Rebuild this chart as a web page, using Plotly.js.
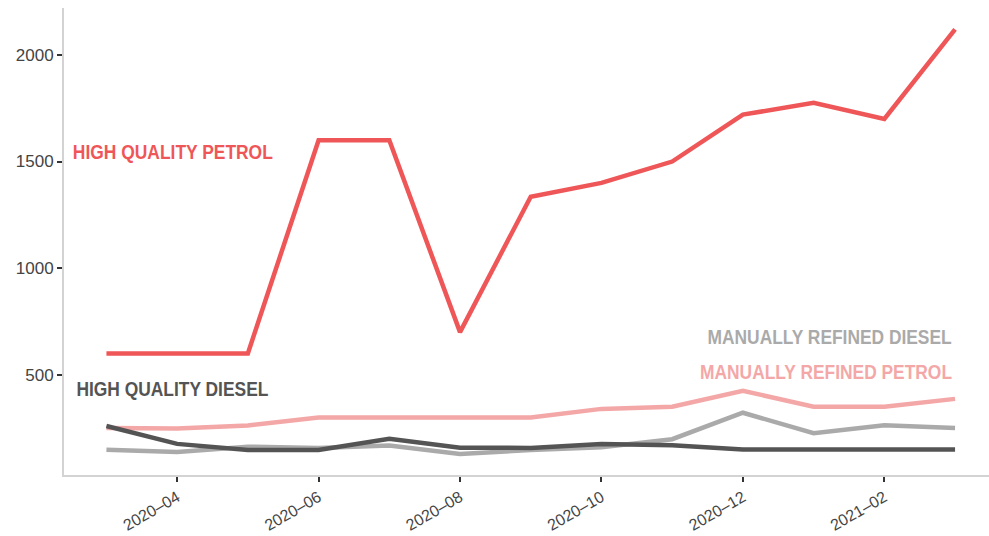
<!DOCTYPE html>
<html>
<head>
<meta charset="utf-8">
<script src="https://cdn.plot.ly/plotly-3.0.1.min.js"></script>
<style>html,body{margin:0;padding:0;background:#fff;}#chart{width:989px;height:536px;}</style>
</head>
<body>
<div id="chart"></div>
<script>
const months = ["2020-03","2020-04","2020-05","2020-06","2020-07","2020-08","2020-09","2020-10","2020-11","2020-12","2021-01","2021-02","2021-03"];
const highQualityPetrol = [600, 600, 600, 1600, 1600, 700, 1335, 1400, 1500, 1720, 1775, 1700, 2120];
const manuallyRefinedPetrol = [250, 248, 262, 300, 300, 300, 300, 340, 350, 425, 350, 350, 387];
const manuallyRefinedDiesel = [148, 138, 163, 157, 168, 128, 147, 160, 198, 322, 226, 263, 250];
const highQualityDiesel = [260, 176, 147, 147, 200, 158, 157, 175, 170, 150, 150, 150, 150];
const tickVals = ["2020-04","2020-06","2020-08","2020-10","2020-12","2021-02"];
const tickText = ["2020\u201304","2020\u201306","2020\u201308","2020\u201310","2020\u201312","2021\u201302"];
const yTicks = [500, 1000, 1500, 2000];
const seriesLabels = ["HIGH QUALITY PETROL","HIGH QUALITY DIESEL","MANUALLY REFINED DIESEL","MANUALLY REFINED PETROL"];

const colors = {hqp:"#EF5658", mrp:"#F4A7A7", mrd:"#AAAAAA", hqd:"#545454"};
function tr(y, c){ return {x: months, y: y, type:"scatter", mode:"lines", line:{color:c, width:4.5}, hoverinfo:"skip", showlegend:false}; }
const data = [
  tr(manuallyRefinedPetrol, colors.mrp),
  tr(manuallyRefinedDiesel, colors.mrd),
  tr(highQualityDiesel, colors.hqd),
  tr(highQualityPetrol, colors.hqp)
];
const lblFont = (c) => ({family:"Liberation Sans, Arial, sans-serif", size:20, color:c, weight:700});
// target rendered widths (px) for the condensed label look
const labelWidths = [200, 192, 244, 252];
const layout = {
  width: 989, height: 536,
  margin: {l:64, r:0, t:8, b:61},
  paper_bgcolor:"#fff", plot_bgcolor:"#fff",
  xaxis: {
    type:"category", range:[-0.6, 12.48],
    tickvals: tickVals, ticktext: tickText, tickangle:-30,
    showgrid:false, zeroline:false,
    showline:true, linecolor:"#D3D3D3", linewidth:2,
    ticks:"outside", ticklen:5, tickwidth:2, tickcolor:"#333",
    tickfont:{family:"Liberation Sans, Arial, sans-serif", size:16, color:"#444"}
  },
  yaxis: {
    range:[30, 2220], tickvals: yTicks,
    showgrid:false, zeroline:false,
    showline:true, linecolor:"#D3D3D3", linewidth:2,
    ticks:"outside", ticklen:5, tickwidth:2, tickcolor:"#333",
    tickfont:{family:"Liberation Sans, Arial, sans-serif", size:17, color:"#444"}
  },
  annotations: [
    {xref:"paper", yref:"y", x:0.1180, y:1543, xanchor:"center", yanchor:"middle", text:seriesLabels[0], showarrow:false, font:lblFont(colors.hqp)},
    {xref:"paper", yref:"y", x:0.1169, y:434, xanchor:"center", yanchor:"middle", text:seriesLabels[1], showarrow:false, font:lblFont(colors.hqd)},
    {xref:"paper", yref:"y", x:0.8272, y:679, xanchor:"center", yanchor:"middle", text:seriesLabels[2], showarrow:false, font:lblFont(colors.mrd)},
    {xref:"paper", yref:"y", x:0.8240, y:514, xanchor:"center", yanchor:"middle", text:seriesLabels[3], showarrow:false, font:lblFont(colors.mrp)}
  ]
};
Plotly.newPlot("chart", data, layout, {displayModeBar:false, staticPlot:true}).then(function(gd){
  const texts = gd.querySelectorAll(".annotation-text");
  texts.forEach(function(t, i){
    if (labelWidths[i]) {
      t.setAttribute("textLength", labelWidths[i]);
      t.setAttribute("lengthAdjust", "spacingAndGlyphs");
    }
  });
});
</script>
</body>
</html>
